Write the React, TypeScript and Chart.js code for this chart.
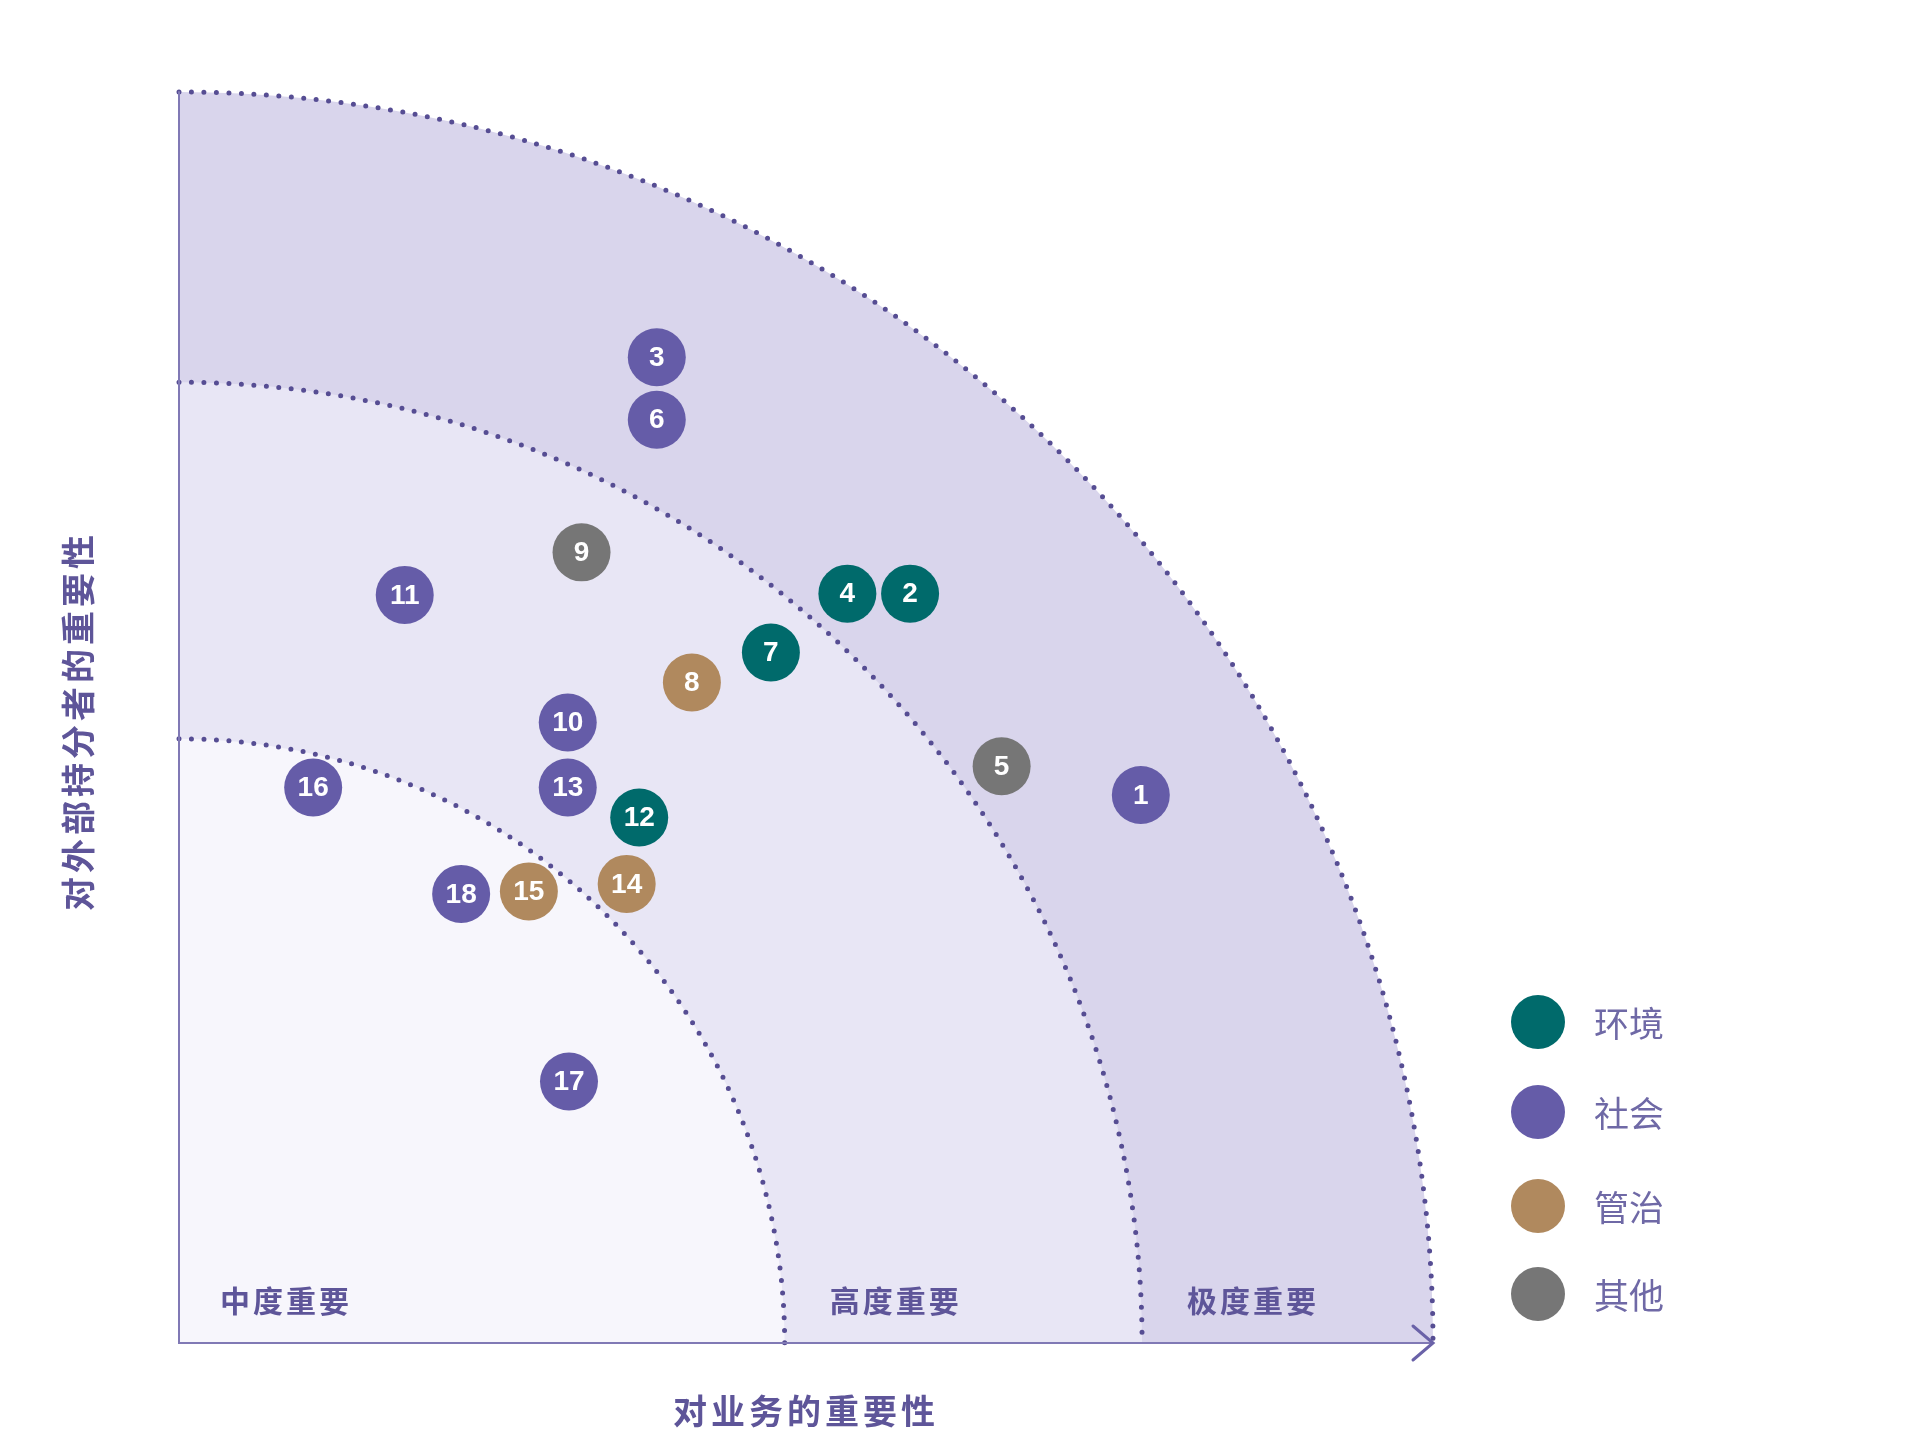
import { useEffect, useRef } from "react";
import { Chart, registerables } from "chart.js";

Chart.register(...registerables);

// material topics: id, business importance (x), stakeholder importance (y), group
const TOPIC_IDS = [1, 2, 3, 4, 5, 6, 7, 8, 9, 10, 11, 12, 13, 14, 15, 16, 17, 18];
const TOPIC_X = [76.7, 58.3, 38.1, 53.3, 65.6, 38.1, 47.2, 40.9, 32.1, 31.0, 18.0, 36.7, 31.0, 35.7, 27.9, 10.7, 31.1, 22.5];
const TOPIC_Y = [43.8, 59.9, 78.8, 59.9, 46.1, 73.8, 55.2, 52.8, 63.2, 49.6, 59.8, 42.0, 44.4, 36.7, 36.1, 44.4, 20.9, 35.9];
const TOPIC_GROUP = [1, 0, 1, 0, 3, 1, 0, 2, 3, 1, 1, 0, 1, 2, 2, 1, 1, 1];

const GROUPS = ["环境", "社会", "管治", "其他"];
const GROUP_COLORS = ["#006a6b", "#655ca8", "#b0895e", "#767676"];

const BAND_LABELS = ["中度重要", "高度重要", "极度重要"];
const BAND_RADII = [48.3, 76.8, 100];
const BAND_FILLS = ["#f7f6fc", "#e8e6f5", "#d9d5ec"];

const X_TITLE = "对业务的重要性";
const Y_TITLE = "对外部持分者的重要性";

const CJK = '"Noto Sans CJK SC", "Noto Sans", sans-serif';
const INK = "#5e5599";
const LEGEND_Y = [1022, 1112, 1206, 1294];

function spaced(ctx: CanvasRenderingContext2D, text: string, cx: number, cy: number, step: number) {
  const chars = Array.from(text);
  const start = cx - ((chars.length - 1) * step) / 2;
  chars.forEach((ch, i) => ctx.fillText(ch, start + i * step, cy));
}

const matrixPlugin = {
  id: "matrix",
  beforeDatasetsDraw(chart: any) {
    const { ctx, scales } = chart;
    const xs = scales.x;
    const ys = scales.y;
    const ox = xs.getPixelForValue(0);
    const oy = ys.getPixelForValue(0);
    const rx = (v: number) => xs.getPixelForValue(v) - ox;
    const ry = (v: number) => oy - ys.getPixelForValue(v);
    ctx.save();
    // bands, outer first
    for (let i = BAND_RADII.length - 1; i >= 0; i--) {
      ctx.beginPath();
      ctx.moveTo(ox, oy);
      ctx.ellipse(ox, oy, rx(BAND_RADII[i]), ry(BAND_RADII[i]), 0, -Math.PI / 2, 0);
      ctx.closePath();
      ctx.fillStyle = BAND_FILLS[i];
      ctx.fill();
    }
    // dotted boundaries
    ctx.strokeStyle = "#564d93";
    ctx.lineWidth = 5;
    ctx.lineCap = "round";
    ctx.setLineDash([0, 12.5]);
    BAND_RADII.forEach((r) => {
      ctx.beginPath();
      ctx.ellipse(ox, oy, rx(r), ry(r), 0, -Math.PI / 2, 0);
      ctx.stroke();
    });
    ctx.setLineDash([]);
    // axes
    const top = ys.getPixelForValue(100);
    const right = xs.getPixelForValue(100);
    ctx.strokeStyle = "#8079b5";
    ctx.lineWidth = 2;
    ctx.beginPath();
    ctx.moveTo(ox, top);
    ctx.lineTo(ox, oy);
    ctx.lineTo(right, oy);
    ctx.stroke();
    ctx.strokeStyle = "#6a62a8";
    ctx.lineWidth = 3;
    ctx.beginPath();
    ctx.moveTo(right - 20, oy - 17);
    ctx.lineTo(right, oy);
    ctx.lineTo(right - 20, oy + 17);
    ctx.stroke();
    // band labels
    ctx.fillStyle = INK;
    ctx.font = `700 30px ${CJK}`;
    ctx.textAlign = "center";
    ctx.textBaseline = "middle";
    BAND_LABELS.forEach((label, i) => {
      const left = i === 0 ? ox + 42 : xs.getPixelForValue(BAND_RADII[i - 1]) + 46;
      spaced(ctx, label, left + 14 + 1.5 * 33, oy - 42, 33);
    });
    // axis titles
    ctx.font = `700 34px ${CJK}`;
    spaced(ctx, X_TITLE, (ox + right) / 2 - 2, oy + 68, 38);
    ctx.save();
    ctx.translate(78, 723);
    ctx.rotate(-Math.PI / 2);
    spaced(ctx, Y_TITLE, 0, 0, 38);
    ctx.restore();
    ctx.restore();
  },
  afterDatasetsDraw(chart: any) {
    const { ctx } = chart;
    ctx.save();
    ctx.fillStyle = "#ffffff";
    ctx.font = 'bold 28px "Liberation Sans", Arial, sans-serif';
    ctx.textAlign = "center";
    ctx.textBaseline = "middle";
    chart.data.datasets.forEach((ds: any, di: number) => {
      const meta = chart.getDatasetMeta(di);
      meta.data.forEach((pt: any, i: number) => {
        ctx.fillText(String(ds.data[i].id), pt.x, pt.y + 1);
      });
    });
    // legend
    GROUPS.forEach((g, i) => {
      const cy = LEGEND_Y[i];
      ctx.beginPath();
      ctx.arc(1538, cy, 27, 0, Math.PI * 2);
      ctx.fillStyle = GROUP_COLORS[i];
      ctx.fill();
      ctx.fillStyle = "#6f69a6";
      ctx.font = `400 35px ${CJK}`;
      ctx.textAlign = "left";
      ctx.fillText(g, 1594, cy + 2);
    });
    ctx.restore();
  },
};

export default function App() {
  const ref = useRef<HTMLCanvasElement | null>(null);

  useEffect(() => {
    if (!ref.current) return;
    const datasets = GROUPS.map((g, gi) => ({
      label: g,
      data: TOPIC_IDS.map((id, i) => ({ id, x: TOPIC_X[i], y: TOPIC_Y[i], g: TOPIC_GROUP[i] })).filter(
        (p) => p.g === gi,
      ),
      backgroundColor: GROUP_COLORS[gi],
      borderWidth: 0,
      pointRadius: 29,
      pointHoverRadius: 29,
    }));
    const chart = new Chart(ref.current, {
      type: "scatter",
      data: { datasets },
      options: {
        responsive: true,
        maintainAspectRatio: false,
        animation: false,
        events: [],
        layout: { padding: { left: 179, top: 92, right: 487, bottom: 97 } },
        plugins: { legend: { display: false }, tooltip: { enabled: false } },
        scales: {
          x: { type: "linear", min: 0, max: 100, display: false },
          y: { type: "linear", min: 0, max: 100, display: false },
        },
      },
      plugins: [matrixPlugin],
    });
    return () => chart.destroy();
  }, []);

  return (
    <div style={{ position: "absolute", left: 0, top: 0, width: 1920, height: 1440, background: "#ffffff" }}>
      <canvas ref={ref} aria-label="重要性矩阵" />
    </div>
  );
}
